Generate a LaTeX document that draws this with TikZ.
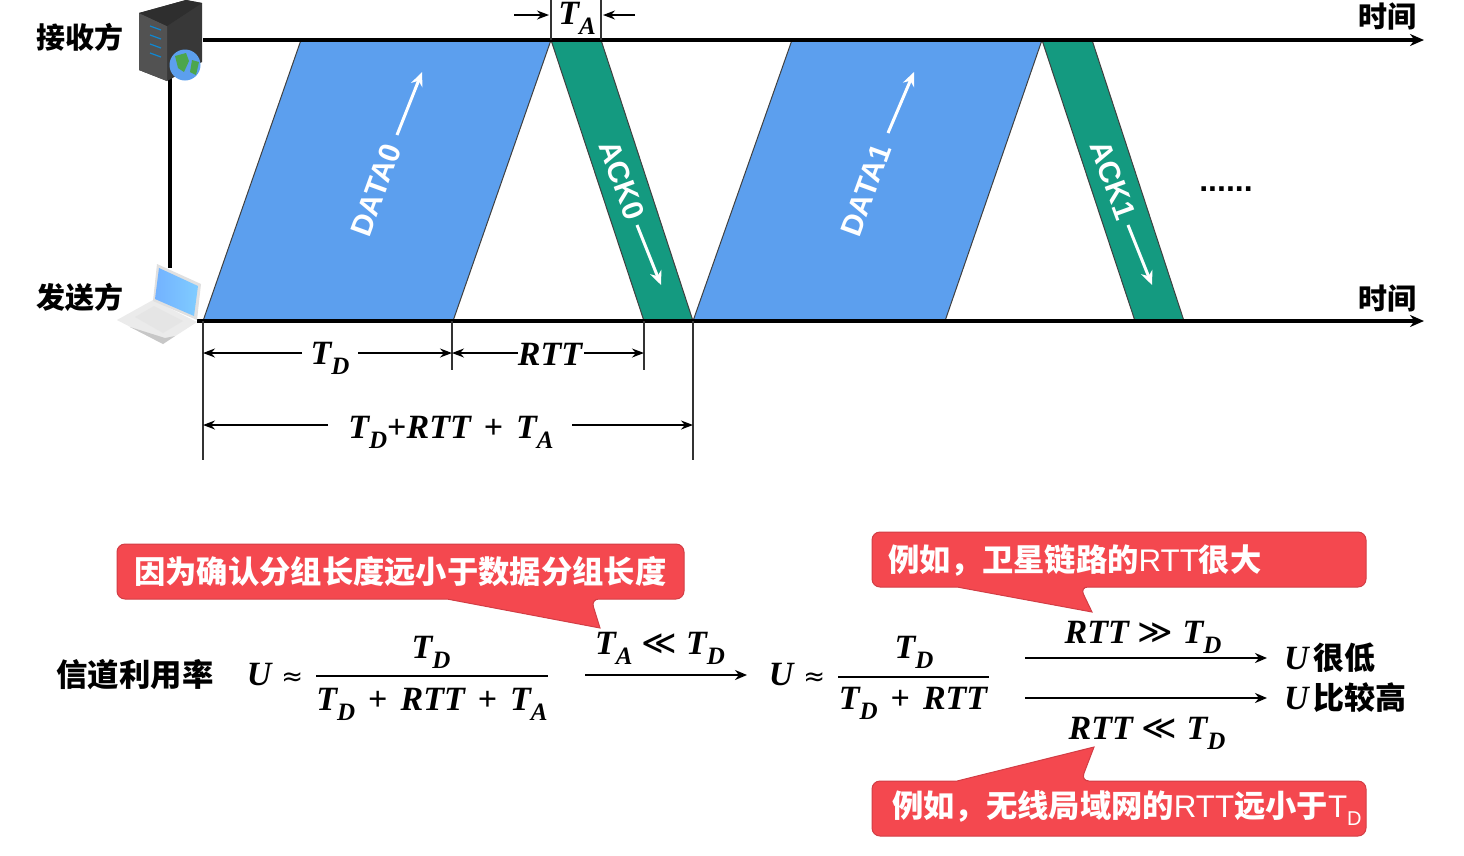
\documentclass[tikz,border=0pt]{standalone}
\usepackage{fontspec}
\usetikzlibrary{arrows.meta}
\setmainfont{Liberation Sans}
\newfontfamily\cjk{Noto Sans CJK SC}
\newfontfamily\mathf{Liberation Serif}
\newfontfamily\symf{DejaVu Sans}
\newcommand{\fs}[1]{\fontsize{#1}{#1}\selectfont}
\newcommand{\mv}[1]{{\mathf\bfseries\itshape #1}}
\newcommand{\sbs}[1]{\raisebox{-0.3em}{\fs{25}\mv{#1}}}
\newcommand{\TD}{\mv{T}\sbs{D}}
\newcommand{\TA}{\mv{T}\sbs{A}}
\newcommand{\RTT}{\mv{RTT}}
\newcommand{\opp}{\hspace{13pt}{\mathf\bfseries +}\hspace{13pt}}
\newcommand{\syml}[1]{\hspace{9pt}{\symf\fs{34}#1}\hspace{9pt}}
\newcommand{\symap}{\hspace{10pt}{\symf\fs{26}≈}}
\newcommand{\lat}[1]{{\fontspec{Liberation Sans}\mdseries #1}}
\definecolor{bluefill}{HTML}{5C9FEE}
\definecolor{greenfill}{HTML}{149A80}
\definecolor{redfill}{HTML}{F4484F}
\definecolor{rededge}{HTML}{D23D45}
\tikzset{
  axisline/.style={line width=3.4pt,-{Stealth[length=14pt,width=12pt]}},
  dim/.style={line width=1.3pt,-{Stealth[length=12pt,width=9pt]}},
  guide/.style={line width=1.1pt,black!80},
  flow/.style={line width=3pt,white,-{Stealth[length=14pt,width=12pt]}},
  lane/.style={draw=black!75,line width=1pt},
  impl/.style={line width=2.4pt,-{Stealth[length=12pt,width=10pt]}},
  fracbar/.style={line width=1.6pt},
  mathtext/.style={inner sep=0pt,font=\fs{34}},
  cjktext/.style={inner sep=0pt,font=\cjk\bfseries\fs{29}},
  calltext/.style={inner sep=0pt,text=white,anchor=west,font=\cjk\bfseries\fs{31.3}},
  callshape/.style={fill=redfill,draw=rededge,line width=1pt},
  flowtext/.style={inner sep=0pt,text=white,font=\bfseries\fs{30}},
}
\begin{document}
\begin{tikzpicture}[x=1pt,y=-1pt]
\useasboundingbox (0,0) rectangle (1464,855);
\fill[white] (0,0) rectangle (1464,855);

% key points
\coordinate (r0) at (203,40);
\coordinate (rEnd) at (1424,40);
\coordinate (s0) at (197,321);
\coordinate (sEnd) at (1424,321);
\coordinate (vTop) at (170,70);
\coordinate (vBot) at (170,268);

% packets
\path[fill=bluefill,lane] (203,321) -- (301,40) -- (551,40) -- (453,321) -- cycle;
\path[fill=greenfill,lane] (551,40) -- (601,40) -- (693,321) -- (644,321) -- cycle;
\path[fill=bluefill,lane] (693,321) -- (792,40) -- (1042,40) -- (945,321) -- cycle;
\path[fill=greenfill,lane] (1042,40) -- (1092,40) -- (1184,321) -- (1135,321) -- cycle;

% axes
\draw[line width=3.2pt] (vTop) -- (vBot);
\draw[axisline] (r0) -- (rEnd);
\draw[axisline] (s0) -- (sEnd);

% server icon
\fill[black!78] (139,13) -- (186,0) -- (202,3) -- (202,62) -- (167,81) -- (139,70) -- cycle;
\fill[black!68] (139,13) -- (167,26) -- (167,81) -- (139,70) -- cycle;
\fill[black!82] (139,13) -- (186,0) -- (202,3) -- (167,26) -- cycle;
\foreach \yy in {26,35,44,53}{\draw[cyan!70!blue,line width=1.2pt] (150,\yy) -- (161,\yy+4);}
% globe
\fill[bluefill] (185,65) circle (15.5);
\fill[green!50!black!70] (175,56) -- (186,53) -- (189,61) -- (184,72) -- (178,68) -- cycle;
\fill[green!50!black!70] (192,60) -- (199,62) -- (196,75) -- (190,72) -- cycle;

% laptop icon
\fill[black!8] (117,320) -- (153,300) -- (197,322) -- (163,344) -- cycle;
\fill[black!22] (130,327) -- (163,344) -- (175,336) -- (165,338) -- cycle;
\fill[white!90!black] (135,317) -- (154,306) -- (183,321) -- (163,333) -- cycle;
\fill[black!12] (157,264) -- (201,284) -- (197,320) -- (153,301) -- cycle;
\shade[left color=cyan!45!blue!55,right color=cyan!60!blue!50] (159,268) -- (198,286) -- (194,316) -- (155,299) -- cycle;

% packet labels
\node[flowtext,rotate=70] (data0) at (376,190) {DATA0};
\node[flowtext,rotate=70] (data1) at (866,190) {DATA1};
\node[flowtext,rotate=-70] (ack0) at (622,180) {ACK0};
\node[flowtext,rotate=-70] (ack1) at (1113,180) {ACK1};
\coordinate (fa1) at (397,135); \coordinate (fa2) at (422,72);
\coordinate (fb1) at (888,133); \coordinate (fb2) at (914,72);
\coordinate (fc1) at (637,225); \coordinate (fc2) at (661,285);
\coordinate (fd1) at (1128,225); \coordinate (fd2) at (1152,285);
\draw[flow] (fa1) -- (fa2);
\draw[flow] (fb1) -- (fb2);
\draw[flow] (fc1) -- (fc2);
\draw[flow] (fd1) -- (fd2);

\node[inner sep=0pt,font=\fs{32}\bfseries] (dots) at (1226,189) {......};
\node[cjktext] (recv) at (80,37) {接收方};
\node[cjktext] (send) at (80,297) {发送方};
\node[cjktext] (time1) at (1387,16) {时间};
\node[cjktext] (time2) at (1387,298) {时间};

% guides
\draw[guide] (203,321) -- (203,460);
\draw[guide] (452,321) -- (452,370);
\draw[guide] (644,321) -- (644,370);
\draw[guide] (693,321) -- (693,460);
\draw[guide] (551,0) -- (551,40);
\draw[guide] (601,0) -- (601,40);

% dimensions
\node[mathtext] (ta) at (577,18) {\TA};
\coordinate (ta1) at (514,15); \coordinate (ta2) at (549,15);
\coordinate (ta3) at (635,15); \coordinate (ta4) at (603,15);
\draw[dim] (ta1) -- (ta2);
\draw[dim] (ta3) -- (ta4);

\node[mathtext] (td) at (330,358) {\TD};
\coordinate (td1) at (302,353); \coordinate (td2) at (358,353);
\coordinate (tdL) at (203,353); \coordinate (tdR) at (452,353);
\draw[dim] (td1) -- (tdL);
\draw[dim] (td2) -- (tdR);

\node[mathtext] (rtt) at (550,354) {\RTT};
\coordinate (rt1) at (518,353); \coordinate (rt2) at (584,353);
\coordinate (rtR) at (644,353);
\draw[dim] (rt1) -- (tdR);
\draw[dim] (rt2) -- (rtR);

\node[mathtext] (tot) at (451,432) {\TD{\mathf\bfseries +}\RTT\opp\TA};
\coordinate (to1) at (328,425); \coordinate (to2) at (572,425);
\coordinate (toL) at (203,425); \coordinate (toR) at (693,425);
\draw[dim] (to1) -- (toL);
\draw[dim] (to2) -- (toR);

% callouts
\draw[callshape,rounded corners=8pt] (447,599) -- (117,599) -- (117,544) -- (684,544) -- (684,599) -- (591,599) [sharp corners] -- (600,628) -- cycle;
\node[calltext] (c1) at (134,572) {因为确认分组长度远小于数据分组长度};
\draw[callshape,rounded corners=8pt] (957,587) -- (872,587) -- (872,532) -- (1366,532) -- (1366,587) -- (1080,587) [sharp corners] -- (1092,612) -- cycle;
\node[calltext] (c2) at (888,560) {例如，卫星链路的\lat{RTT}很大};
\draw[callshape,rounded corners=8pt] (957,781) -- (872,781) -- (872,836) -- (1366,836) -- (1366,781) -- (1081,781) [sharp corners] -- (1094,747) -- cycle;
\node[calltext] (c3) at (892,808) {例如，无线局域网的\lat{RTT}远小于\lat{T\raisebox{-0.25em}{\fs{20}D}}};

% formula
\node[cjktext,font=\cjk\bfseries\fs{31.4}] (util) at (135,675) {信道利用率};
\node[mathtext] (u1) at (275,675) {\mv{U}\symap};
\node[mathtext] (n1) at (431,652) {\TD};
\node[mathtext] (d1) at (432,704) {\TD\opp\RTT\opp\TA};
\coordinate (f1a) at (316,676); \coordinate (f1b) at (548,676);
\draw[fracbar] (f1a) -- (f1b);
\node[mathtext] (cond1) at (660,648) {\TA\syml{≪}\TD};
\coordinate (i1a) at (585,675); \coordinate (i1b) at (747,675);
\draw[impl] (i1a) -- (i1b);
\node[mathtext] (u2) at (797,675) {\mv{U}\symap};
\node[mathtext] (n2) at (914,652) {\TD};
\node[mathtext] (d2) at (913,703) {\TD\opp\RTT};
\coordinate (f2a) at (838,677); \coordinate (f2b) at (989,677);
\draw[fracbar] (f2a) -- (f2b);
\coordinate (i2a) at (1025,658); \coordinate (i2b) at (1267,658);
\coordinate (i3a) at (1025,698); \coordinate (i3b) at (1267,698);
\draw[impl] (i2a) -- (i2b);
\draw[impl] (i3a) -- (i3b);
\node[mathtext] (cond2) at (1143,637) {\RTT\syml{≫}\TD};
\node[mathtext] (cond3) at (1147,733) {\RTT\syml{≪}\TD};
\node[mathtext,anchor=west] (res1) at (1284,658) {\mv{U}\hspace{5pt}{\cjk\bfseries\fs{31}很低}};
\node[mathtext,anchor=west] (res2) at (1284,698) {\mv{U}\hspace{5pt}{\cjk\bfseries\fs{31}比较高}};
\end{tikzpicture}
\end{document}
